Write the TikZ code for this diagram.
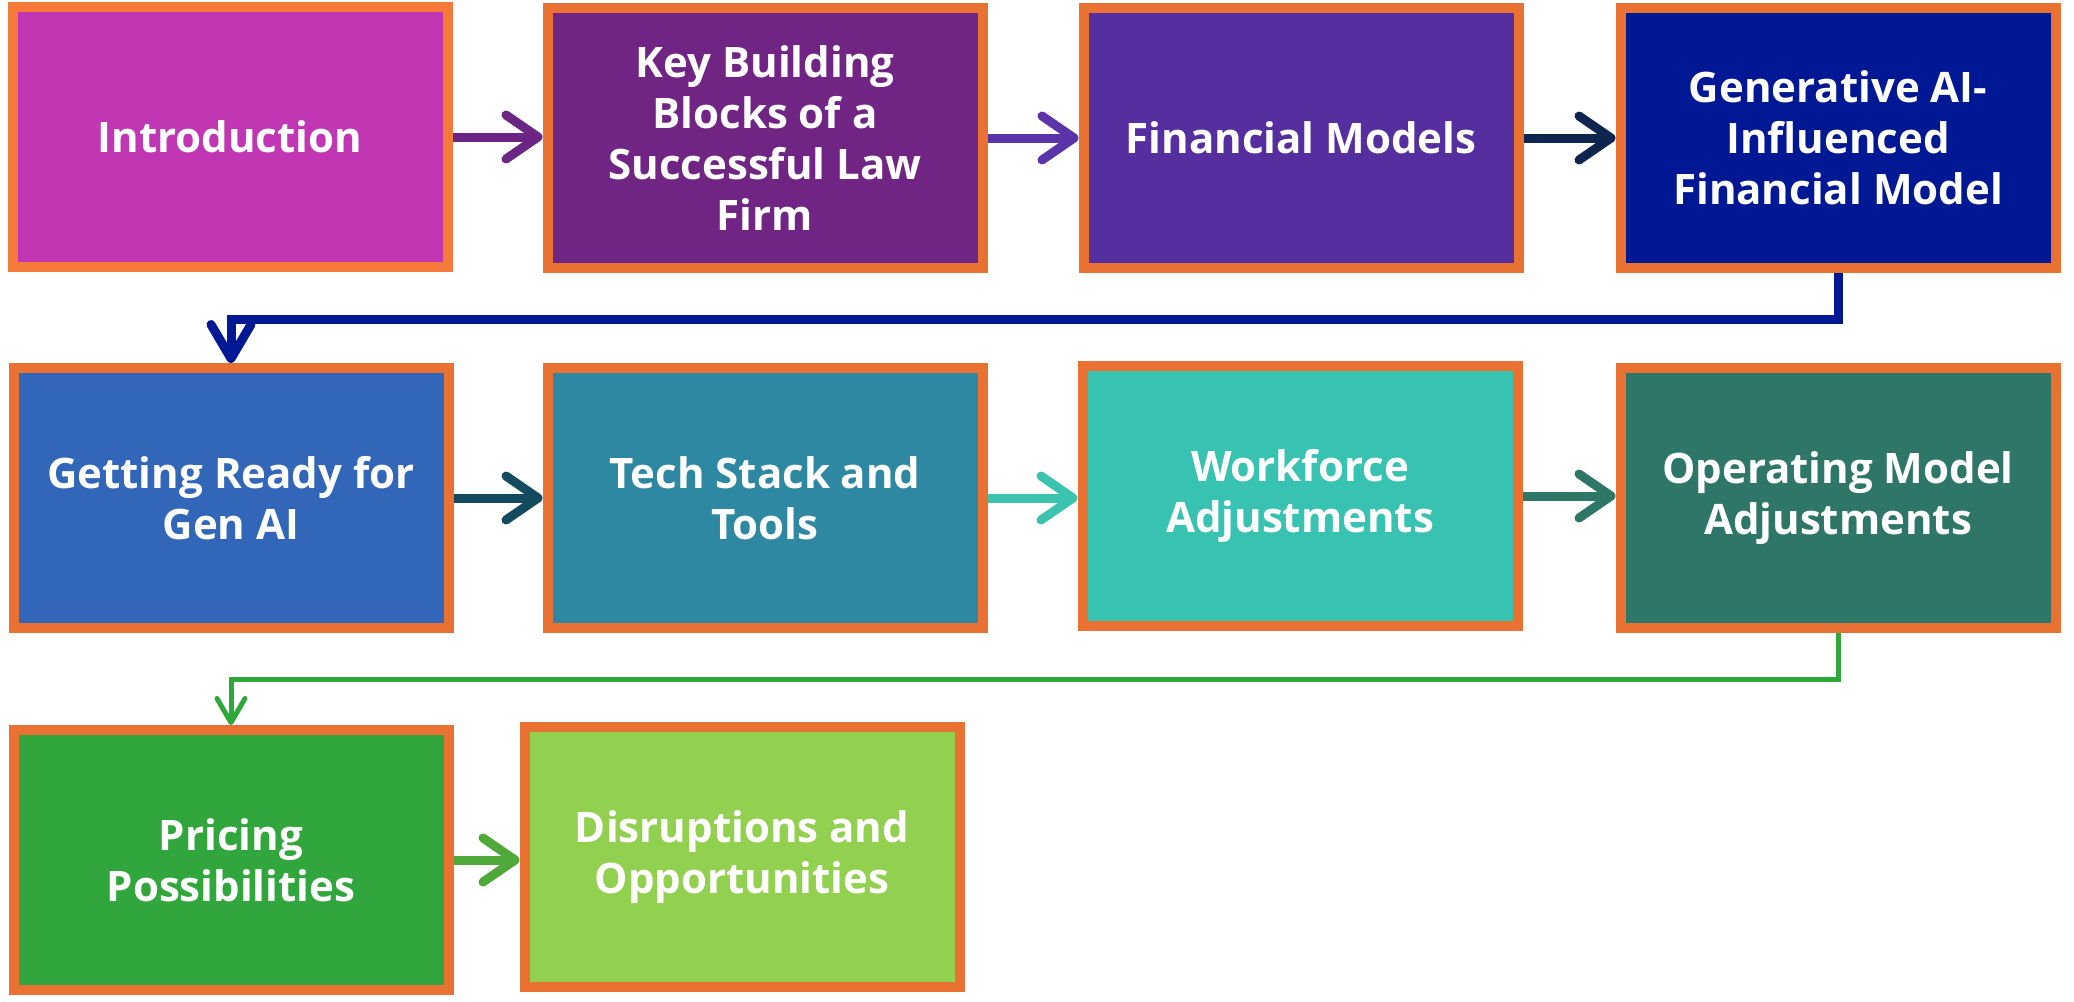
\documentclass[tikz,border=0pt]{standalone}
\usepackage{fontspec}
\setmainfont{Open Sans}
\usetikzlibrary{arrows.meta}
\definecolor{bord}{HTML}{E97132}
\definecolor{bordlight}{HTML}{F57A3A}
\definecolor{c1}{HTML}{C136B2}
\definecolor{c2}{HTML}{702484}
\definecolor{c3}{HTML}{552E9F}
\definecolor{c4}{HTML}{001893}
\definecolor{c5}{HTML}{3166B8}
\definecolor{c6}{HTML}{2E88A2}
\definecolor{c7}{HTML}{37C2B1}
\definecolor{c8}{HTML}{2E7768}
\definecolor{c9}{HTML}{31A63D}
\definecolor{c10}{HTML}{92D050}
\definecolor{a1}{HTML}{6B2585}
\definecolor{a2}{HTML}{5A34A8}
\definecolor{a3}{HTML}{0E2550}
\definecolor{a5}{HTML}{124A60}
\definecolor{a6}{HTML}{3CC3AF}
\definecolor{a7}{HTML}{2E7766}
\definecolor{a9}{HTML}{4EA83A}
\definecolor{l4}{HTML}{001893}
\definecolor{l8}{HTML}{2EA83B}
\begin{document}
\begin{tikzpicture}[x=1pt,y=-1pt,
  box/.style={draw=bord, line width=10pt, minimum width=435pt, minimum height=260pt,
    text=white, font=\fontsize{42}{51}\selectfont\bfseries, align=center, inner sep=0pt},
  flow/.style={line width=9pt, -{Straight Barb[length=32pt,width=44pt,round]}},
  turnline/.style={line width=9pt, -{Straight Barb[length=34pt,width=40pt,round]}},
  thinline/.style={line width=5pt, -{Straight Barb[length=24pt,width=28pt,round]}}
]
\useasboundingbox (0,0) rectangle (2074,1001);
\node[box, fill=c1, draw=bordlight] (b1) at (230,137) {Introduction};
\node[box, fill=c2] (b2) at (765,138) {Key Building\\Blocks of a\\Successful Law\\Firm};
\node[box, fill=c3] (b3) at (1301,138) {Financial Models};
\node[box, fill=c4] (b4) at (1838,138) {Generative AI-\\Influenced\\Financial Model};
\node[box, fill=c5] (b5) at (231,498) {Getting Ready for\\Gen AI};
\node[box, fill=c6] (b6) at (765,498) {Tech Stack and\\Tools};
\node[box, fill=c7] (b7) at (1300,496) {Workforce\\Adjustments};
\node[box, fill=c8] (b8) at (1838,498) {Operating Model\\Adjustments};
\node[box, fill=c9] (b9) at (231,860) {Pricing\\Possibilities};
\node[box, fill=c10] (b10) at (742,857) {Disruptions and\\Opportunities};
\draw[flow, a1] (b1.east) -- (b1.east -| b2.west);
\draw[flow, a2] (b2.east) -- (b2.east -| b3.west);
\draw[flow, a3] (b3.east) -- (b3.east -| b4.west);
\draw[flow, a5] (b5.east) -- (b5.east -| b6.west);
\draw[flow, a6] (b6.east) -- (b6.east -| b7.west);
\draw[flow, a7] (b7.east) -- (b7.east -| b8.west);
\draw[flow, a9] (b9.east) -- (b9.east -| b10.west);
\draw[turnline, l4] (b4.south) -- ++(0,46) -| (b5.north);
\draw[thinline, l8] (b8.south) -- ++(0,46) -| (b9.north);
\end{tikzpicture}
\end{document}
